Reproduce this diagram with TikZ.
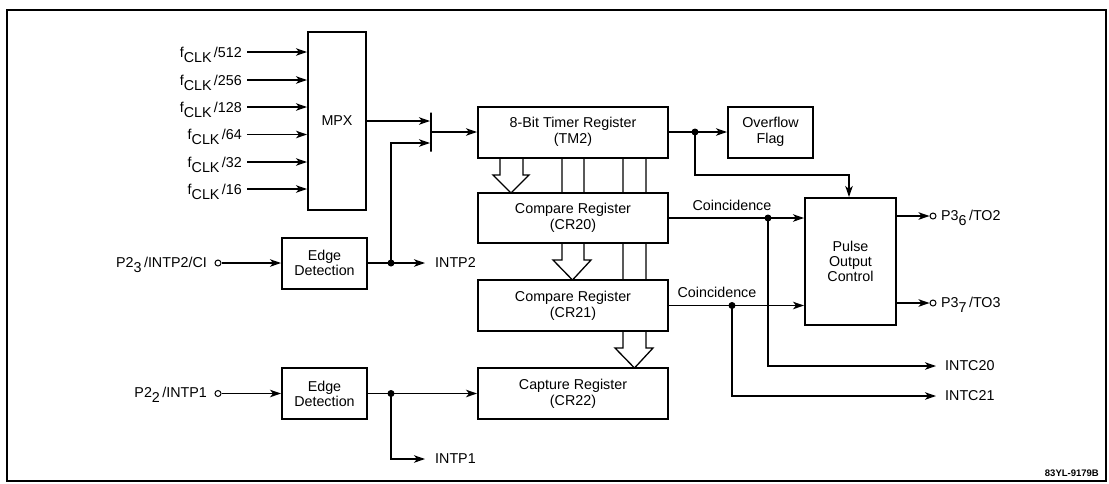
\documentclass[tikz,border=0pt]{standalone}
\usepackage{fontspec}
\setmainfont{Liberation Sans}
\usetikzlibrary{arrows.meta,calc}
\begin{document}
\begin{tikzpicture}[x=1pt,y=-1pt,
  box/.style={draw,line width=2pt,align=center,inner sep=0pt,fill=white},
  ln/.style={line width=1.3pt},
  arr/.style={ln,-{Stealth[length=11pt,width=7.5pt,inset=3pt]}},
  lbl/.style={inner sep=0pt},
  port/.style={circle,draw,line width=1pt,fill=white,minimum size=6pt,inner sep=0pt},
  hollow/.style={ln,fill=white,line join=miter},
  font=\fontsize{14.3}{16}\selectfont]

\useasboundingbox (0,0) rectangle (1109,483);
\draw[line width=1.3pt] (7,10) rectangle (1106,481);

% hollow bus arrows (drawn before the boxes)
\draw[hollow] (500,158) -- (500,175) -- (493,175) -- (511,193) -- (529,175) -- (523,175) -- (523,158);
\draw[hollow] (562,158) -- (562,260) -- (553,260) -- (572.5,280) -- (591,260) -- (584,260) -- (584,158);
\draw[hollow] (623,158) -- (623,348) -- (615,348) -- (634.5,368) -- (653,348) -- (646,348) -- (646,158);

% boxes
\node[box,minimum width=58pt,minimum height=178pt] (mpx) at (337,121) {MPX};
\node[box,minimum width=190pt,minimum height=51pt] (tm) at (573,132) {8-Bit Timer Register\\(TM2)};
\node[box,minimum width=85pt,minimum height=51pt] (of) at (770.5,132) {Overflow\\Flag};
\node[box,minimum width=190pt,minimum height=50pt] (cr20) at (573,218) {Compare Register\\(CR20)};
\node[box,minimum width=190pt,minimum height=51pt] (cr21) at (573,305.5) {Compare Register\\(CR21)};
\node[box,minimum width=190pt,minimum height=51pt] (cr22) at (573,393.5) {Capture Register\\(CR22)};
\node[box,minimum width=91pt,minimum height=127pt,font=\fontsize{14.3}{15}\selectfont] (po) at (850.5,261.5) {Pulse\\Output\\Control};
\node[box,minimum width=85pt,minimum height=51pt,font=\fontsize{14.3}{15}\selectfont] (ed1) at (324.5,263) {Edge\\Detection};
\node[box,minimum width=85pt,minimum height=51pt,font=\fontsize{14.3}{15}\selectfont] (ed2) at (324.5,393.5) {Edge\\Detection};
\node[draw,line width=2pt,minimum width=0pt,minimum height=39pt,inner sep=0pt] (bar) at (431,132) {};

% clock inputs
\foreach \n/\d/\y in {1/512/52,2/256/80,3/128/107,4/64/134.5,5/32/162,6/16/189} {
  \node[lbl,anchor=base east] (f\n) at (242,\y+5) {f\raisebox{-5pt}{CLK}\,/\d};
  \coordinate (a\n) at (247,\y);
  \draw[arr] (a\n) -- (a\n -| mpx.west);
}

% MPX / edge detection to timer
\draw[arr] (mpx.east) -- (mpx.east -| bar.west);
\coordinate (d2) at (391,263);
\coordinate (j2) at (391,143);
\draw[arr] (d2) -- (j2) -- (j2 -| bar.west);
\draw[arr] (bar.east) -- (tm.west);

% P2_3 input
\node[port] (c1) at (218,263) {};
\node[lbl,anchor=base east] (p23) at (207,267) {P2\raisebox{-5pt}{3}\,/INTP2/CI};
\draw[arr] (c1) -- (c1 -| ed1.west);
\node[lbl,anchor=west] (intp2) at (435,263) {INTP2};
\draw[arr,shorten >=10pt] (ed1.east) -- (ed1.east -| intp2.west);

% P2_2 input
\node[port] (c2) at (218,393.5) {};
\node[lbl,anchor=base east] (p22) at (207,397.5) {P2\raisebox{-5pt}{2}\,/INTP1};
\draw[arr] (c2) -- (c2 -| ed2.west);
\coordinate (d3) at (391,393.5);
\coordinate (j3) at (391,459);
\draw[arr] (ed2.east) -- (cr22.west);
\node[lbl,anchor=west] (intp1) at (435,459) {INTP1};
\draw[arr,shorten >=10pt] (d3) -- (j3) -- (intp1.west);

% timer outputs
\coordinate (d1) at (695,132);
\coordinate (j1) at (695,175);
\coordinate (j1b) at (849,175);
\draw[arr] (tm.east) -- (of.west);
\draw[arr] (d1) -- (j1) -- (j1b) -- (j1b |- po.north);

% coincidence CR20
\coordinate (d4) at (768,218);
\draw[arr] (cr20.east) -- (cr20.east -| po.west);
\node[lbl,anchor=south] (coin1) at (732,211) {Coincidence};
\coordinate (j4) at (768,366);
\node[lbl,anchor=west] (intc20) at (945,366) {INTC20};
\draw[arr,shorten >=9pt] (d4) -- (j4) -- (intc20.west);

% coincidence CR21
\coordinate (d5) at (732,305.5);
\draw[arr] (cr21.east) -- (cr21.east -| po.west);
\node[lbl,anchor=south] (coin2) at (717,298) {Coincidence};
\coordinate (j5) at (732,396);
\node[lbl,anchor=west] (intc21) at (945,396) {INTC21};
\draw[arr,shorten >=9pt] (d5) -- (j5) -- (intc21.west);

% pulse outputs
\node[port] (c3) at (933,216) {};
\draw[arr] (c3 -| po.east) -- (c3.west);
\node[lbl,anchor=base west] (p36) at (941,220) {P3\raisebox{-5pt}{6}\,/TO2};
\node[port] (c4) at (933,303) {};
\draw[arr] (c4 -| po.east) -- (c4.west);
\node[lbl,anchor=base west] (p37) at (941,307) {P3\raisebox{-5pt}{7}\,/TO3};

% junction dots
\foreach \d in {d1,d2,d3,d4,d5} \fill (\d) circle (3.5);

\node[lbl,anchor=base east,font=\bfseries\fontsize{9.5}{11}\selectfont] (code) at (1099,476) {83YL-9179B};
\end{tikzpicture}
\end{document}
